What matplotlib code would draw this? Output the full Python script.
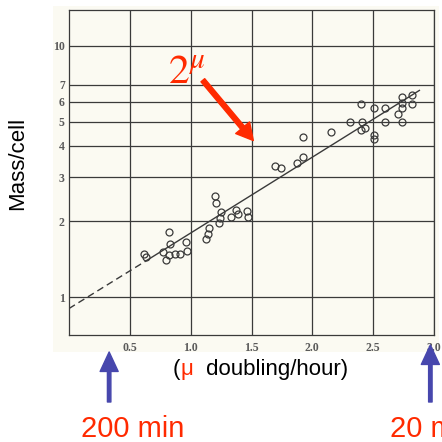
import numpy as np
import matplotlib
matplotlib.use("Agg")
import matplotlib.pyplot as plt
from matplotlib.patches import Rectangle
from matplotlib.ticker import FixedLocator, NullLocator, NullFormatter

# growth rate (doublings per hour) vs mass per cell
mu = [0.62, 0.63, 0.77, 0.80, 0.82, 0.82, 0.83, 0.87, 0.91, 0.96, 0.97,
      1.13, 1.14, 1.15, 1.20, 1.21, 1.23, 1.24, 1.25, 1.33, 1.37, 1.39,
      1.46, 1.47, 1.69, 1.74, 1.87, 1.92, 1.92, 2.15, 2.31, 2.40, 2.41,
      2.40, 2.43, 2.51, 2.51, 2.51, 2.60, 2.60, 2.70, 2.74, 2.74, 2.74,
      2.74, 2.82, 2.82]
mass = [1.48, 1.44, 1.51, 1.41, 1.47, 1.82, 1.62, 1.49, 1.48, 1.66, 1.53,
        1.71, 1.79, 1.88, 2.53, 2.36, 1.98, 2.07, 2.19, 2.08, 2.23, 2.14,
        2.21, 2.09, 3.33, 3.27, 3.41, 3.60, 4.33, 4.53, 4.96, 5.87, 4.96,
        4.61, 4.70, 5.65, 4.42, 4.26, 5.65, 4.96, 5.38, 4.96, 6.28, 5.93,
        5.66, 6.35, 5.87]

# fitted line: dashed extrapolation, then solid over the data
fit_mu = [0.0, 0.64, 2.88]
fit_mass = [0.90, 1.40, 6.65]

xticks = [0.5, 1.0, 1.5, 2.0, 2.5, 3.0]
xticklabels = ["0.5", "1.0", "1.5", "2.0", "2.5", "3.0"]
yticks = [1, 2, 3, 4, 5, 6, 7, 10]
yticklabels = ["1", "2", "3", "4", "5", "6", "7", "10"]

red = "#ff2a00"
blue = "#4747ad"
ink = "#3a3a3a"

fig = plt.figure(figsize=(4.42, 4.42), dpi=100)
fig.patch.set_facecolor("white")

# paper-coloured background behind the old graph
fig.patches.append(Rectangle((53 / 442, 1 - 352 / 442), 386 / 442, 346 / 442,
                             transform=fig.transFigure, facecolor="#fbfaf2",
                             edgecolor="none", zorder=-1))

ax = fig.add_axes([69 / 442, 1 - 335 / 442, 365 / 442, 325 / 442])
ax.set_zorder(1)
ax.set_facecolor("none")
ax.set_yscale("log")
ax.set_xlim(0, 3.0)
ax.set_ylim(0.706, 13.9)

ax.xaxis.set_major_locator(FixedLocator(xticks))
ax.set_xticklabels(xticklabels)
ax.yaxis.set_major_locator(FixedLocator(yticks))
ax.yaxis.set_minor_locator(NullLocator())
ax.yaxis.set_minor_formatter(NullFormatter())
ax.set_yticklabels(yticklabels)

ax.tick_params(length=0, labelsize=8.5, labelcolor="#5a5a5a")
ax.tick_params(axis="x", pad=5)
ax.tick_params(axis="y", pad=3)
for lab in ax.get_xticklabels() + ax.get_yticklabels():
    lab.set_family("Liberation Serif")
    lab.set_fontweight("bold")

ax.grid(True, color=ink, linewidth=0.9)
for s in ax.spines.values():
    s.set_color(ink)
    s.set_linewidth(0.9)

ax.plot(fit_mu[:2], fit_mass[:2], color=ink, lw=1.0, ls=(0, (5, 3)))
ax.plot(fit_mu[1:], fit_mass[1:], color=ink, lw=1.0)
ax.plot(mu, mass, ls="none", marker="o", ms=5, mfc="none", mec=ink, mew=0.9)

# 2^mu annotation
ax.text(0.97, 7.9, r"$2^{\mu}$", color=red, fontsize=30,
        math_fontfamily="stix", ha="center", va="center")
ax.annotate("", xy=(1.515, 4.2), xytext=(1.10, 7.3),
            arrowprops=dict(facecolor=red, edgecolor=red, width=3.5,
                            headwidth=13, headlength=12))

# axis labels
fig.text(18 / 442, 1 - 163 / 442, "Mass/cell", rotation=90, fontsize=16,
         family="Liberation Sans", ha="center", va="center")
ybase = 1 - 375 / 442
fig.text(173 / 442, ybase, "(", fontsize=16, family="Liberation Sans",
         va="baseline")
fig.text(181 / 442, ybase, "\u03bc", fontsize=16, family="Liberation Sans",
         color=red, va="baseline")
fig.text(200 / 442, ybase, " doubling/hour)", fontsize=16,
         family="Liberation Sans", va="baseline")

# doubling-time markers below the axis
for xm, ytip in [(0.33, 1 - 352 / 442), (2.97, 1 - 345 / 442)]:
    ax.annotate("", xy=(xm, ytip), xytext=(xm, 1 - 402 / 442),
                xycoords=("data", "figure fraction"),
                textcoords=("data", "figure fraction"),
                annotation_clip=False,
                arrowprops=dict(facecolor=blue, edgecolor=blue, width=2.5,
                                headwidth=13, headlength=14))

fig.text(133 / 442, 0.012, "200 min", fontsize=21, color=red,
         family="Liberation Sans", ha="center", va="baseline")
fig.text(390 / 442, 0.012, "20 min", fontsize=21, color=red,
         family="Liberation Sans", ha="left", va="baseline")

fig.savefig("out.png", dpi=100)
